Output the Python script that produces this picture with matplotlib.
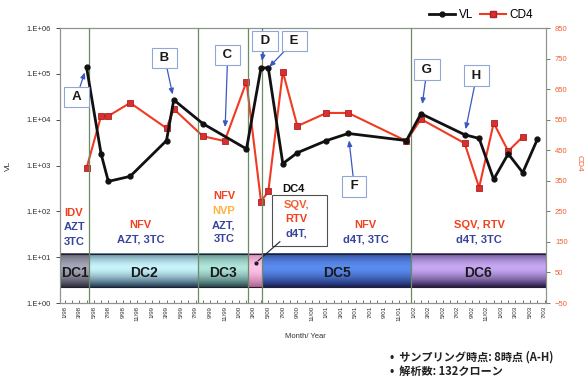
import numpy as np
import pandas as pd
import matplotlib
matplotlib.use("Agg")
import matplotlib.pyplot as plt
from matplotlib.colors import to_rgb
from matplotlib.lines import Line2D
from matplotlib.patches import Rectangle
from matplotlib.ticker import FixedLocator, FuncFormatter, MultipleLocator, NullLocator

plt.rcParams["font.family"] = ["Liberation Sans", "Noto Sans CJK JP", "DejaVu Sans"]

# x axis: months counted from Jan 1998
tick_dates = pd.date_range("1998-01-01", "2003-07-01", freq="2MS")
tick_labels = [f"{d.month}/{d.year % 100:02d}" for d in tick_dates]

# viral load (copies/ml) and CD4 count per visit
vl_month = [3, 5, 6, 9, 14, 15, 19, 25, 27, 28, 30, 32, 36, 39, 47, 49, 55, 57, 59, 61, 63, 65]
vl_copies = [1.4e5, 1.8e3, 450, 580, 3.5e3, 2.7e4, 8.2e3, 2.3e3, 1.35e5, 1.35e5, 1.1e3,
             1.9e3, 3.5e3, 5.0e3, 3.5e3, 1.35e4, 4.7e3, 3.9e3, 500, 1.8e3, 700, 3.7e3]
cd4_month = [3, 5, 6, 9, 14, 15, 19, 22, 25, 27, 28, 30, 32, 36, 39, 47, 49, 55, 57, 59, 61, 63]
cd4_count = [391, 562, 562, 605, 522, 585, 496, 480, 674, 282, 315, 707, 529, 572, 572,
             480, 552, 473, 328, 539, 447, 494]

# drug-combination periods (month where each one starts / ends)
dc_names = ["DC1", "DC2", "DC3", "DC4", "DC5", "DC6"]
dc_edges = [-0.65, 3.35, 18.4, 25.2, 27.2, 47.6, 66.2]
dc_edge_col = ["#2c2c3c", "#1e3a52", "#26484a", "#b06090", "#18205a", "#2a1a48"]
dc_mid_col = ["#a8a8bc", "#c8f4fc", "#b0e6dc", "#ffc4ea", "#5a8cf0", "#c8a8f4"]

# sampling points: letter, series, month
samples = [("A", "vl", 3), ("B", "vl", 15), ("C", "cd4", 22), ("D", "vl", 27),
           ("E", "vl", 28), ("F", "vl", 39), ("G", "vl", 49), ("H", "vl", 55)]
sample_offset = [(-10, -30), (-9, 42), (3, 86), (4, 27), (26, 27), (6, -53), (6, 44), (12, 59)]
sample_shrink = [4, 4, 10, 5, 1, 5, 7, 4]

RED = "#f2401e"
ORANGE = "#ffb040"
BLUE = "#36449e"

# regimen text: x, alignment, top y (CD4 units), lines
regimens = [
    (-0.1, "left", 245, [("IDV", RED), ("AZT", BLUE), ("3TC", BLUE)]),
    (10.4, "center", 204, [("NFV", RED), ("AZT, 3TC", BLUE)]),
    (21.9, "center", 299, [("NFV", RED), ("NVP", ORANGE), ("AZT,", BLUE), ("3TC", BLUE)]),
    (41.4, "center", 204, [("NFV", RED), ("d4T, 3TC", BLUE)]),
    (57.0, "center", 204, [("SQV, RTV", RED), ("d4T, 3TC", BLUE)]),
]
dc4_lines = [("SQV,", "#f06030"), ("RTV", RED), ("d4T,", BLUE)]


def band_image(edge, mid, n=64):
    s = np.linspace(0, 1, n)
    t = np.clip(1 - np.abs((s - 0.42) / 0.58) ** 1.6, 0, 1)
    e = np.array(to_rgb(edge))
    m = np.array(to_rgb(mid))
    rgb = e[None, :] + (m - e)[None, :] * t[:, None]
    return rgb[:, None, :]


fig = plt.figure(figsize=(5.87, 3.78), dpi=100)
ax = fig.add_axes([0.1022, 0.1984, 0.828, 0.7275])
ax2 = ax.twinx()
ax.set_zorder(ax2.get_zorder() + 1)
ax.patch.set_visible(False)

# drug-combination band along the bottom
band_lo, band_hi = 2, 111
for i in range(len(dc_names)):
    x0, x1 = dc_edges[i], dc_edges[i + 1]
    ax2.imshow(band_image(dc_edge_col[i], dc_mid_col[i]), extent=(x0, x1, band_lo, band_hi),
               aspect="auto", interpolation="bilinear", zorder=1)
    if dc_names[i] != "DC4":
        ax2.text((x0 + x1) / 2, 48, dc_names[i], ha="center", va="center",
                 fontsize=10, fontweight="bold", color="#1a1a1a", zorder=3)
ax2.add_patch(Rectangle((dc_edges[0], band_lo), dc_edges[-1] - dc_edges[0], band_hi - band_lo,
                        fill=False, edgecolor="#202030", lw=0.8, zorder=2))

for x, ha, top, lines in regimens:
    for k, (txt, col) in enumerate(lines):
        ax2.text(x, top - 47 * k, txt, ha=ha, va="center", fontsize=8,
                 fontweight="bold", color=col, zorder=3)

# DC4 call-out box
ax2.add_patch(Rectangle((28.5, 137), 7.6, 165, facecolor="white",
                        edgecolor="#505050", lw=0.8, zorder=3))
ax2.text(31.5, 322, "DC4", ha="center", va="center", fontsize=8,
         fontweight="bold", color="#111111", zorder=4)
for k, (txt, col) in enumerate(dc4_lines):
    ax2.text(31.9, 272 - 47 * k, txt, ha="center", va="center", fontsize=8,
             fontweight="bold", color=col, zorder=4)
ax2.annotate("", xy=(26.3, 82), xytext=(29.9, 157),
             arrowprops=dict(arrowstyle="-", color="#202020", lw=0.8), zorder=4)
ax2.plot([26.3], [82], "o", color="#202020", ms=2, zorder=4)

# CD4 on the right axis
ax2.plot(cd4_month, cd4_count, color="#f03a22", lw=1.5, marker="s", ms=5,
         mfc="#d83030", mec="#b02020", mew=0.6, zorder=5)

# viral load on the left (log) axis
ax.plot(vl_month, vl_copies, color="#111111", lw=2, marker="o", ms=3.5, zorder=5)

# regimen change dividers
for x in dc_edges[1:-1]:
    ax.axvline(x, color="#6e8a62", lw=0.9, zorder=4)

# sampling point call-outs
for (letter, series, m), (dx, dy), shr in zip(samples, sample_offset, sample_shrink):
    if series == "vl":
        target, trans = (m, vl_copies[vl_month.index(m)]), ax.transData
    else:
        target, trans = (m, cd4_count[cd4_month.index(m)]), ax2.transData
    ax.annotate(f" {letter} ", xy=target, xycoords=trans, xytext=(dx, dy),
                textcoords="offset pixels", ha="center", va="center",
                fontsize=9.5, fontweight="bold", color="#1a1a1a", zorder=6,
                bbox=dict(boxstyle="square,pad=0.32", fc="white", ec="#8ea6d8", lw=0.8),
                arrowprops=dict(arrowstyle="-|>,head_length=0.35,head_width=0.15",
                                color="#3a58c0", lw=0.9, shrinkA=0, shrinkB=shr))

# axes, ticks and limits
ax.set_xlim(dc_edges[0], dc_edges[-1])
ax.set_yscale("log")
ax.set_ylim(1, 1e6)
ax.yaxis.set_major_locator(FixedLocator([10.0 ** k for k in range(7)]))
ax.yaxis.set_minor_locator(NullLocator())
ax.yaxis.set_major_formatter(FuncFormatter(lambda v, _: f"1.E+{int(round(np.log10(v))):02d}"))
ax.tick_params(axis="y", labelsize=5.5, colors="#303030", length=3, width=0.6, direction="out")

ax.set_xticks(np.arange(0, 2 * len(tick_labels), 2))
ax.set_xticklabels(tick_labels, rotation=90, fontsize=4.5, color="#303030")
ax.xaxis.set_minor_locator(MultipleLocator(1))
ax.tick_params(axis="x", which="both", direction="in", length=2.5, width=0.6, pad=2,
               colors="#606060", labelcolor="#303030")

ax2.set_ylim(-50, 850)
ax2.set_yticks(np.arange(-50, 851, 100))
ax2.tick_params(axis="y", labelsize=5.5, colors="#f06030", length=3, width=0.6)
ax2.tick_params(axis="y", color="#606060")

for a in (ax, ax2):
    for sp in a.spines.values():
        sp.set_color("#8c968a")
        sp.set_linewidth(0.8)

fig.text(8 / 587, 0.561, "VL", rotation=90, ha="center", va="center", fontsize=6, color="#303030")
fig.text(0.986, 0.569, "CD4", rotation=270, ha="center", va="center", fontsize=6, color="#f06030")
fig.text(0.52, 0.111, "Month/ Year", ha="center", va="center", fontsize=5.5, color="#303030")

handles = [Line2D([], [], color="#111111", lw=2, marker="o", ms=3.5),
           Line2D([], [], color="#f03a22", lw=1.5, marker="s", ms=5, mfc="#d83030", mec="#b02020")]
fig.legend(handles, ["VL", "CD4"], loc="center", bbox_to_anchor=(0.82, 0.960), ncol=2,
           frameon=False, fontsize=8.5, handlelength=2.2, handletextpad=0.3, columnspacing=0.6)

jp = ["Noto Sans CJK JP", "DejaVu Sans"]
fig.text(390 / 587, 1 - 357 / 378, "•  サンプリング時点: 8時点 (A-H)", family=jp,
         fontsize=8, fontweight="bold", va="center", color="#222222")
fig.text(390 / 587, 1 - 371 / 378, "•  解析数: 132クローン", family=jp,
         fontsize=8, fontweight="bold", va="center", color="#222222")

fig.savefig("out.png", dpi=100)
